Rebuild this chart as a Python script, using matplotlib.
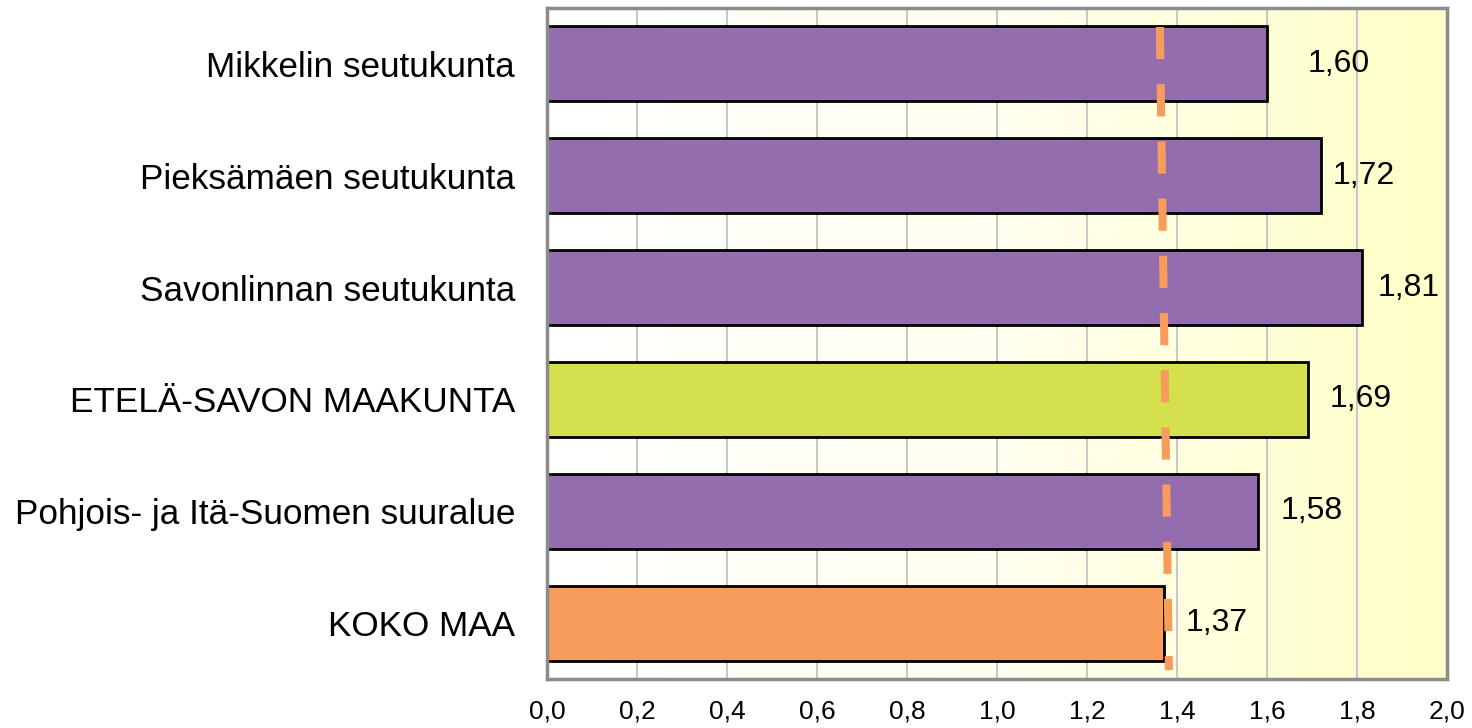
import numpy as np
import matplotlib
matplotlib.use("Agg")
import matplotlib.pyplot as plt
from matplotlib.colors import LinearSegmentedColormap

categories = ["Mikkelin seutukunta", "Pieksämäen seutukunta", "Savonlinnan seutukunta",
              "ETELÄ-SAVON MAAKUNTA", "Pohjois- ja Itä-Suomen suuralue", "KOKO MAA"]
values = [1.60, 1.72, 1.81, 1.69, 1.58, 1.37]
colors = ["#946DAE", "#946DAE", "#946DAE", "#D4E04D", "#946DAE", "#F79C5A"]
reference_value = 1.37
xticks = [0.0, 0.2, 0.4, 0.6, 0.8, 1.0, 1.2, 1.4, 1.6, 1.8, 2.0]

plt.rcParams['font.family'] = ['Liberation Sans', 'DejaVu Sans']

fig = plt.figure(figsize=(14.72, 7.28), dpi=100)
ax = fig.add_axes([547/1472, 1 - 679/728, (1447-547)/1472, (679-8)/728])

n = len(categories)
ypos = np.arange(n)[::-1]

# background gradient
cmap = LinearSegmentedColormap.from_list("bg", ["#FFFFFF", "#FFFFF0", "#FFFFC8"])
grad = np.linspace(0, 1, 256).reshape(1, -1)
ax.imshow(grad, aspect="auto", cmap=cmap, extent=[0, 2.0, -0.5, n - 0.5], zorder=0)

for x in xticks[1:-1]:
    ax.axvline(x, color="#C8C8C8", lw=1.5, zorder=1)

ax.barh(ypos, values, height=0.67, color=colors, edgecolor="black", linewidth=2, zorder=2)

offsets = [0.09, 0.025, 0.035, 0.05, 0.05, 0.05]
for y, v, o in zip(ypos, values, offsets):
    ax.text(v + o, y, f"{v:.2f}".replace(".", ","), va="center", ha="left", fontsize=23, zorder=4)

ax.plot([reference_value - 0.008, reference_value + 0.012], [n - 0.5 - 0.17, -0.5 + 0.08],
        color="#F79C5A", lw=5.8, dashes=(4, 3.1), zorder=3, solid_capstyle="butt")

ax.set_xlim(0, 2.0)
ax.set_ylim(-0.5, n - 0.5)
ax.set_xticks(xticks)
ax.set_xticklabels([f"{x:.1f}".replace(".", ",") for x in xticks], fontsize=19)
ax.set_yticks(ypos)
ax.set_yticklabels(categories, fontsize=25.3)
ax.tick_params(axis="both", length=0)
ax.tick_params(axis="y", pad=23)
ax.tick_params(axis="x", pad=15)
for s in ax.spines.values():
    s.set_color("#8C8C8C")
    s.set_linewidth(2.5)
    s.set_zorder(5)

fig.savefig("out.png", dpi=100)
